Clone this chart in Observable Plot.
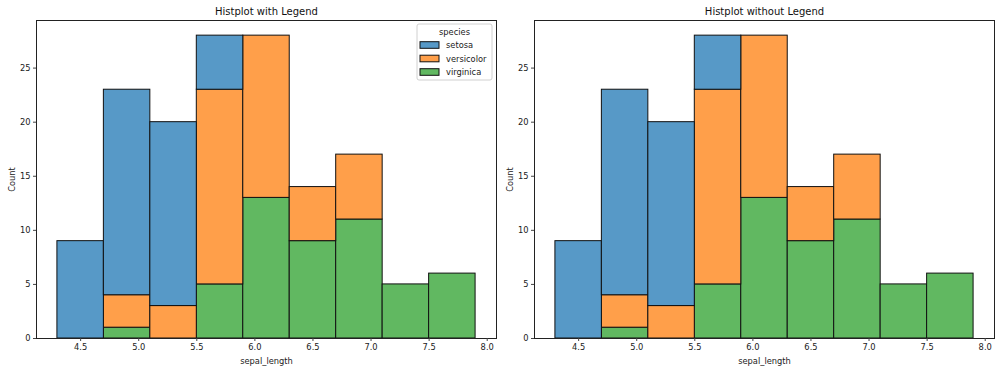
<!DOCTYPE html>
<html>
<head>
<meta charset="utf-8">
<script src="https://cdn.jsdelivr.net/npm/d3@7"></script>
<script src="https://cdn.jsdelivr.net/npm/@observablehq/plot@0.6"></script>
<style>
  body { margin: 0; background: #fff; }
  #wrap { display: flex; width: 1000px; height: 371px; }
  svg { font-family: "DejaVu Sans", sans-serif; }
</style>
</head>
<body>
<div id="wrap"></div>
<script>
// Bin edges (sepal_length), width 0.4
const binStarts = [4.3, 4.7, 5.1, 5.5, 5.9, 6.3, 6.7, 7.1, 7.5];
const binWidth = 0.4;
const speciesNames = ["setosa", "versicolor", "virginica"];
const setosaCounts     = [9, 19, 17, 5, 0, 0, 0, 0, 0];
const versicolorCounts = [0, 3, 3, 18, 15, 5, 6, 0, 0];
const virginicaCounts  = [0, 1, 0, 5, 13, 9, 11, 5, 6];
const speciesColors = ["#5799c7", "#ff9f4a", "#61b861"];
const xTicks = [4.5, 5.0, 5.5, 6.0, 6.5, 7.0, 7.5, 8.0];
const yTicks = [0, 5, 10, 15, 20, 25];
const titles = ["Histplot with Legend", "Histplot without Legend"];
const legendTitle = "species";

const countsBySpecies = {setosa: setosaCounts, versicolor: versicolorCounts, virginica: virginicaCounts};
const table = [];
for (const sp of ["virginica", "versicolor", "setosa"]) {
  binStarts.forEach((b, i) => {
    const c = countsBySpecies[sp][i];
    if (c > 0) table.push({species: sp, x1: b, x2: +(b + binWidth).toFixed(2), count: c});
  });
}

function panel(title, withLegend, mLeft, mRight) {
  const svg = Plot.plot({
    width: 500,
    height: 371,
    marginTop: 20,
    marginBottom: 33,
    marginLeft: mLeft,
    marginRight: mRight,
    style: {fontFamily: "DejaVu Sans, sans-serif", fontSize: "8.3px", color: "#222", background: "#fff"},
    x: {domain: [4.12, 8.08]},
    y: {domain: [0, 29.4]},
    color: {domain: speciesNames, range: speciesColors},
    marks: [
      Plot.rectY(table, {
        x1: "x1", x2: "x2", y: "count", fill: "species",
        order: ["virginica", "versicolor", "setosa"],
        stroke: "#111", strokeWidth: 1, inset: 0
      }),
      Plot.frame({stroke: "#222", strokeWidth: 1}),
      Plot.axisX({ticks: xTicks, tickFormat: d => d.toFixed(1), tickSize: 3, tickPadding: 3,
        stroke: "#444", label: "sepal_length", labelAnchor: "center", labelArrow: "none", labelOffset: 25, fill: "#222"}),
      Plot.axisY({ticks: yTicks, tickFormat: d => String(d), tickSize: 3, tickPadding: 3,
        stroke: "#444", label: "Count", labelAnchor: "center", labelArrow: "none", labelOffset: 27, fill: "#222"}),
      Plot.text([title], {frameAnchor: "top", lineAnchor: "middle", dy: -8.5, fontSize: 10, fill: "#111", text: d => d})
    ]
  });
  if (withLegend) {
    const s = d3.select(svg);
    const g = s.append("g").attr("font-family", "DejaVu Sans, sans-serif").attr("font-size", 8.3)
      .attr("text-anchor", "start");
    g.append("rect").attr("x", 417).attr("y", 24).attr("width", 75).attr("height", 56)
      .attr("rx", 2).attr("fill", "#fff").attr("fill-opacity", 0.8).attr("stroke", "#d0d0d0");
    g.append("text").attr("x", 454.5).attr("y", 32).attr("text-anchor", "middle")
      .attr("dominant-baseline", "central").attr("fill", "#222").text(legendTitle);
    speciesNames.forEach((sp, i) => {
      const cy = 45 + i * 13.5;
      g.append("rect").attr("x", 420).attr("y", cy - 3.3).attr("width", 19).attr("height", 6.6)
        .attr("fill", speciesColors[i]).attr("stroke", "#111").attr("stroke-width", 1);
      g.append("text").attr("x", 446).attr("y", cy).attr("text-anchor", "start")
        .attr("dominant-baseline", "central").attr("fill", "#222").text(sp);
    });
  }
  return svg;
}

const wrap = document.getElementById("wrap");
wrap.appendChild(panel(titles[0], true, 36, 4));
wrap.appendChild(panel(titles[1], false, 34, 6));
</script>
</body>
</html>
